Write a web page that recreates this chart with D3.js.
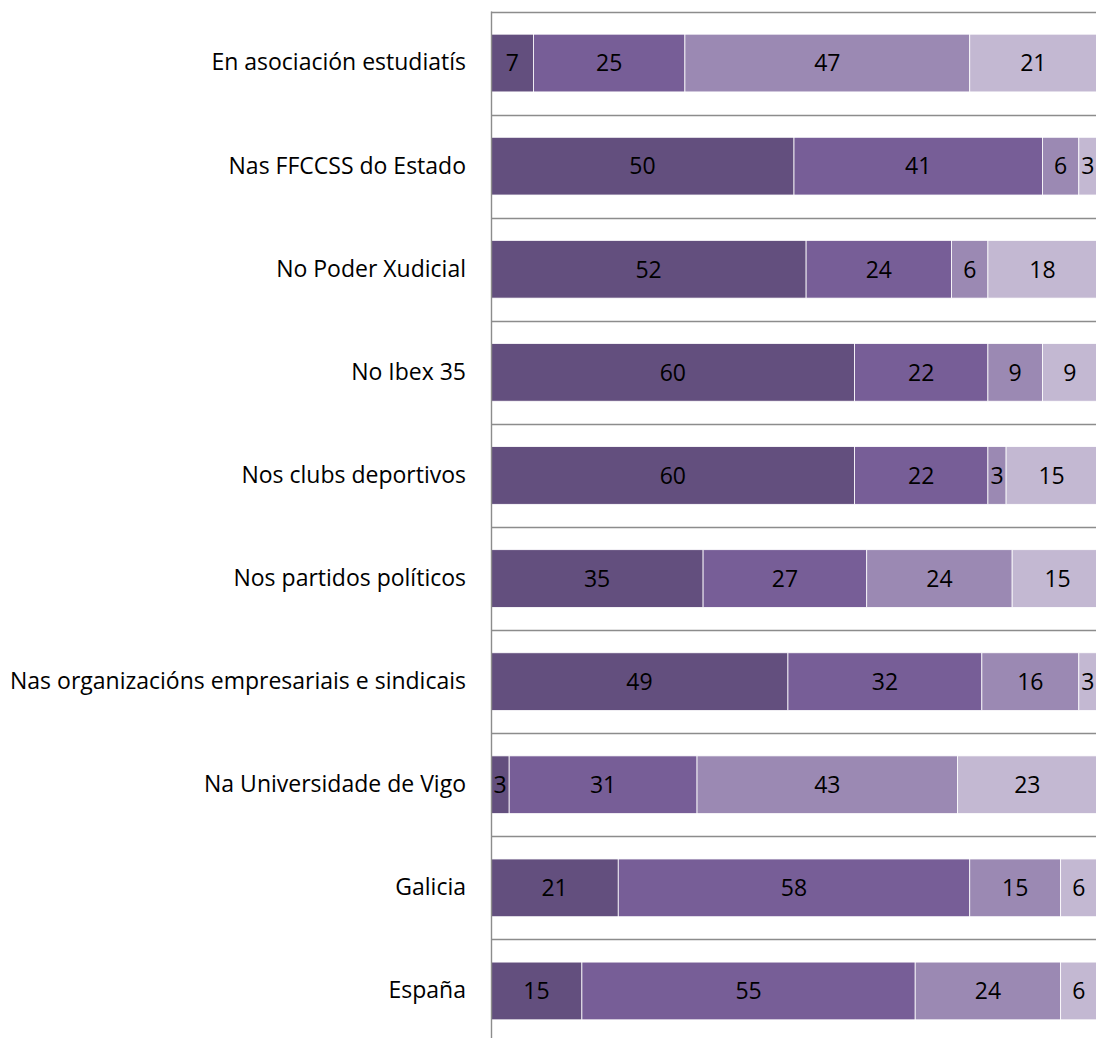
<!DOCTYPE html>
<html>
<head>
<meta charset="utf-8">
<script src="https://cdn.jsdelivr.net/npm/d3@7"></script>
<style>
  html, body { margin: 0; padding: 0; background: #ffffff; }
  svg { display: block; }
  text { font-family: "Open Sans", "Noto Sans", sans-serif; }
</style>
</head>
<body>
<svg id="chart" width="1096" height="1038"></svg>
<script>
// Categories, top to bottom
const categories = [
  "En asociación estudiatís",
  "Nas FFCCSS do Estado",
  "No Poder Xudicial",
  "No Ibex 35",
  "Nos clubs deportivos",
  "Nos partidos políticos",
  "Nas organizacións empresariais e sindicais",
  "Na Universidade de Vigo",
  "Galicia",
  "España"
];

// Four response levels (percent), one array per stacked series
const serie1 = [7, 50, 52, 60, 60, 35, 49, 3, 21, 15];
const serie2 = [25, 41, 24, 22, 22, 27, 32, 31, 58, 55];
const serie3 = [47, 6, 6, 9, 3, 24, 16, 43, 15, 24];
const serie4 = [21, 3, 18, 9, 15, 15, 3, 23, 6, 6];

const seriesKeys = ["s1", "s2", "s3", "s4"];
const seriesColors = ["#634f7e", "#775e97", "#9b89b3", "#c3b8d2"];

const rows = categories.map((c, i) => ({
  cat: c, s1: serie1[i], s2: serie2[i], s3: serie3[i], s4: serie4[i]
}));

const svg = d3.select("#chart");
const plot = { left: 491, right: 1097, top: 11.5, bottom: 1042.5 };
const fontSize = 23;

const x = d3.scaleLinear().domain([0, 100]).range([plot.left, plot.right]);
const y = d3.scaleBand().domain(categories).range([plot.top, plot.bottom])
  .paddingInner(0.44).paddingOuter(0.22);

const stacked = d3.stack().keys(seriesKeys)(rows);

// Horizontal separators between categories
const bounds = d3.range(categories.length + 1)
  .map(i => plot.top + i * (plot.bottom - plot.top) / categories.length);
svg.append("g").selectAll("line").data(bounds).join("line")
  .attr("x1", plot.left).attr("x2", 1096)
  .attr("y1", d => Math.round(d) + 0.5).attr("y2", d => Math.round(d) + 0.5)
  .attr("stroke", "#8c8c8c").attr("stroke-width", 1.4);

// Stacked segments
const layer = svg.append("g").selectAll("g").data(stacked).join("g")
  .attr("fill", (d, i) => seriesColors[i]);

layer.selectAll("rect").data(d => d.map(v => ({ v, key: d.key }))).join("rect")
  .attr("x", d => x(d.v[0]))
  .attr("y", d => y(d.v.data.cat))
  .attr("width", d => x(d.v[1]) - x(d.v[0]))
  .attr("height", y.bandwidth())
  .attr("stroke", "#ffffff").attr("stroke-width", 0.8);

// Value labels centred in each segment
layer.selectAll("text").data(d => d.map(v => ({ v, key: d.key }))).join("text")
  .attr("x", d => (x(d.v[0]) + x(d.v[1])) / 2)
  .attr("y", d => y(d.v.data.cat) + y.bandwidth() / 2)
  .attr("dy", "0.36em")
  .attr("text-anchor", "middle")
  .attr("font-size", fontSize)
  .attr("fill", "#000000")
  .text(d => d.v.data[d.key]);

// Category axis on the left
const yAxis = d3.axisLeft(y).tickSize(0).tickPadding(25);
const ga = svg.append("g").attr("transform", `translate(${plot.left},0)`).call(yAxis);
ga.select(".domain").remove();
ga.selectAll("text").attr("font-size", fontSize).attr("fill", "#000000")
  .attr("font-family", "'Open Sans', 'Noto Sans', sans-serif");

svg.append("line")
  .attr("x1", plot.left + 0.5).attr("x2", plot.left + 0.5)
  .attr("y1", plot.top).attr("y2", 1038)
  .attr("stroke", "#8c8c8c").attr("stroke-width", 1.4);
</script>
</body>
</html>
